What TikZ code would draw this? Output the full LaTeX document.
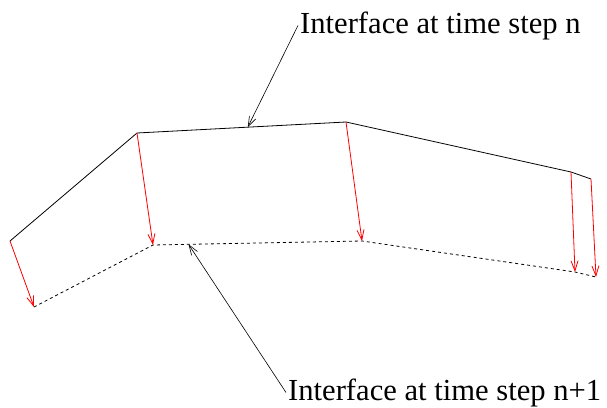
\documentclass[tikz,border=0pt]{standalone}
\usepackage{fontspec}
\setmainfont{Liberation Serif}
\usetikzlibrary{arrows.meta,calc}

\begin{document}
\begin{tikzpicture}[x=1pt,y=-1pt,
		barb/.style={-{Straight Barb[length=10pt,width=7pt]}},
		redarrow/.style={barb,red,line width=0.8pt},
		leader/.style={barb,black,line width=0.6pt},
		lbl/.style={font=\fontsize{30.6}{34}\selectfont,inner sep=2pt}]
		\useasboundingbox (0,0) rectangle (607,407);
		% interface at step n
		\coordinate (t1) at (10,241);
		\coordinate (t2) at (137,133);
		\coordinate (t3) at (346,122);
		\coordinate (t4) at (571,172);
		\coordinate (t5) at (591,179);
		\draw[line width=0.8pt] (t1)--(t2)--(t3)--(t4)--(t5);
		% interface at step n+1
		\coordinate (b1) at (34,307);
		\coordinate (b2) at (153,245);
		\coordinate (b3) at (362,241);
		\coordinate (b4) at (575,272);
		\coordinate (b5) at (596,277);
		\draw[line width=0.8pt,dash pattern=on 3pt off 3pt] (b1)--(b2)--(b3)--(b4)--(b5);
		% displacement of the nodes
		\foreach \i in {1,...,5}{
			\draw[redarrow] (t\i)--(b\i);
		}
		% labels
		\node[lbl,anchor=base west] (lbln) at (298,33) {Interface at time step n};
		\node[lbl,anchor=base west] (lblnn) at (286,400) {Interface at time step n+1};
		\coordinate (tn) at ($(t2)!0.53!(t3)$);
		\coordinate (bn) at ($(b2)!0.17!(b3)$);
		\draw[leader] (lbln.west)--(tn);
		\draw[leader] (lblnn.west)--(bn);
	\end{tikzpicture}
\end{document}
